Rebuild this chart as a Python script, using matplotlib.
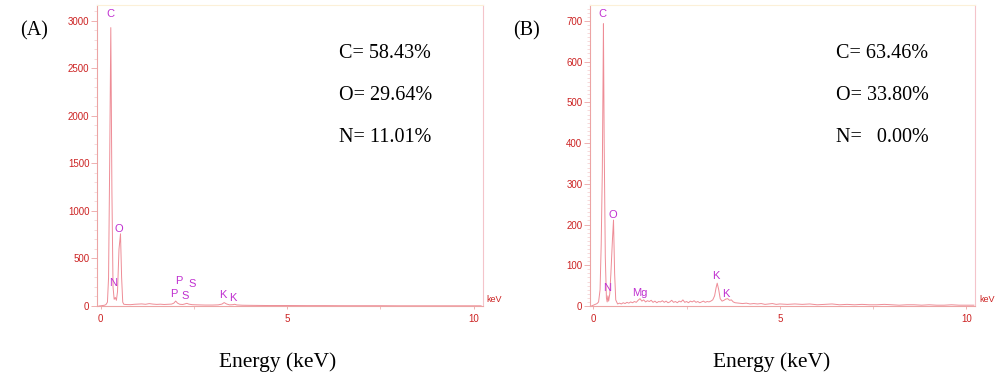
import matplotlib
matplotlib.use('Agg')
import matplotlib.pyplot as plt
from matplotlib.ticker import MultipleLocator, FixedLocator

# ---- spectrum (A) ----
energy_a = [-0.05, 0.00, 0.05, 0.10, 0.14, 0.18, 0.21, 0.24, 0.27, 0.30, 0.33, 0.36,
            0.39, 0.42, 0.45, 0.49, 0.53, 0.56, 0.59, 0.62, 0.70, 0.80, 0.90, 1.00,
            1.10, 1.20, 1.30, 1.40, 1.50, 1.60, 1.70, 1.80, 1.90, 1.96, 2.01, 2.06,
            2.12, 2.20, 2.26, 2.31, 2.36, 2.45, 2.60, 2.80, 3.00, 3.15, 3.25, 3.31,
            3.37, 3.45, 3.55, 3.59, 3.65, 3.80, 4.00, 4.50, 5.00, 5.50, 6.00, 6.50,
            7.00, 7.50, 8.00, 8.50, 9.00, 9.50, 10.00, 10.20]
counts_a = [0, 2, 5, 8, 15, 40, 300, 1500, 2930, 1200, 200, 70,
            90, 60, 150, 600, 760, 300, 40, 18, 15, 14, 18, 20,
            22, 18, 25, 20, 17, 19, 16, 18, 20, 30, 52, 30,
            18, 16, 22, 28, 20, 14, 12, 10, 10, 12, 20, 36,
            22, 12, 14, 18, 11, 8, 7, 5, 5, 4, 4, 3,
            3, 3, 2, 2, 2, 2, 2, 2]

# ---- spectrum (B) ----
energy_b = [-0.05, 0.00, 0.05, 0.10, 0.14, 0.18, 0.21, 0.24, 0.26, 0.27, 0.29, 0.32,
            0.35, 0.37, 0.39, 0.41, 0.44, 0.47, 0.51, 0.54, 0.57, 0.60, 0.65, 0.70,
            0.75, 0.80, 0.85, 0.90, 0.95, 1.00, 1.05, 1.10, 1.15, 1.20, 1.25, 1.30,
            1.35, 1.40, 1.45, 1.50, 1.55, 1.60, 1.65, 1.70, 1.75, 1.80, 1.85, 1.90,
            1.95, 2.00, 2.05, 2.10, 2.15, 2.20, 2.25, 2.30, 2.35, 2.40, 2.45, 2.50,
            2.55, 2.60, 2.65, 2.70, 2.75, 2.80, 2.85, 2.90, 2.95, 3.00, 3.05, 3.10,
            3.15, 3.20, 3.25, 3.29, 3.32, 3.36, 3.40, 3.45, 3.50, 3.55, 3.60, 3.65,
            3.70, 3.75, 3.80, 3.90, 4.00, 4.10, 4.20, 4.30, 4.40, 4.50, 4.60, 4.70,
            4.80, 4.90, 5.00, 5.20, 5.40, 5.60, 5.80, 6.00, 6.20, 6.40, 6.60, 6.80,
            7.00, 7.20, 7.40, 7.60, 7.80, 8.00, 8.20, 8.40, 8.60, 8.80, 9.00, 9.20,
            9.40, 9.60, 9.80, 10.00, 10.20]
counts_b = [0, 2, 4, 6, 10, 40, 150, 330, 560, 693, 400, 120,
            20, 10, 25, 12, 30, 80, 160, 211, 80, 15, 5, 7,
            5, 8, 6, 9, 7, 10, 8, 11, 9, 14, 18, 12,
            15, 10, 13, 11, 14, 9, 12, 8, 11, 10, 13, 9,
            12, 8, 10, 14, 9, 11, 8, 12, 10, 15, 9, 11,
            8, 12, 10, 13, 9, 11, 8, 10, 12, 9, 11, 10,
            12, 15, 25, 45, 56, 40, 18, 12, 14, 17, 18, 14,
            15, 10, 8, 7, 6, 7, 5, 6, 5, 6, 4, 5,
            6, 4, 5, 4, 5, 4, 5, 3, 4, 5, 3, 4,
            3, 4, 3, 3, 4, 3, 2, 3, 3, 2, 3, 2,
            2, 3, 2, 2, 2]

# peak labels (text, energy, counts)
labels_a = [('C', 0.25, 3074), ('O', 0.48, 810), ('N', 0.33, 240),
            ('P', 2.10, 263), ('S', 2.44, 230), ('P', 1.97, 126),
            ('S', 2.27, 105), ('K', 3.28, 116), ('K', 3.54, 87)]
labels_b = [('C', 0.25, 717), ('O', 0.51, 224), ('N', 0.36, 44),
            ('Mg', 1.25, 32), ('K', 3.29, 74), ('K', 3.56, 29)]

comp_a = ['C= 58.43%', 'O= 29.64%', 'N= 11.01%']
comp_b = ['C= 63.46%', 'O= 33.80%', 'N=   0.00%']

line_col = '#ee8c96'
tick_col = '#cc2222'
spine_col = '#eca4a4'
label_col = '#c030d0'

W, H = 1003, 386
fig = plt.figure(figsize=(W / 100, H / 100), dpi=100)


def make_panel(rect, energy, counts, labels, ymax, ymajor, yminor, xlim):
    ax = fig.add_axes(rect)
    ax.plot(energy, counts, color=line_col, lw=0.7)
    ax.set_xlim(*xlim)
    ax.set_ylim(0, ymax)
    ax.yaxis.set_major_locator(MultipleLocator(ymajor))
    ax.yaxis.set_minor_locator(MultipleLocator(yminor))
    ax.xaxis.set_major_locator(FixedLocator([0, 5, 10]))
    ax.xaxis.set_minor_locator(FixedLocator([2.5, 7.5]))
    for s in ['left', 'bottom']:
        ax.spines[s].set_color(spine_col)
        ax.spines[s].set_linewidth(0.8)
    ax.spines['top'].set_color('#fcf0d8')
    ax.spines['right'].set_color('#f4c4ca')
    ax.spines['top'].set_linewidth(0.8)
    ax.spines['right'].set_linewidth(0.8)
    ax.tick_params(axis='y', which='major', length=4, width=0.6, color=spine_col,
                   labelcolor=tick_col, labelsize=7, pad=1.5)
    ax.tick_params(axis='y', which='minor', length=2.5, width=0.4, color='#f2c0c0')
    ax.tick_params(axis='x', which='major', length=2, width=0.6, color=spine_col,
                   labelcolor=tick_col, labelsize=7, pad=4)
    ax.tick_params(axis='x', which='minor', length=2, width=0.5, color=spine_col)
    for lab in ax.get_xticklabels() + ax.get_yticklabels():
        lab.set_family('Liberation Sans')
    for t, x, y in labels:
        ax.text(x, y, t, color=label_col, fontsize=8, family='Liberation Sans',
                ha='center', va='center')
    return ax


ax_a = make_panel([97 / W, 80 / H, 386 / W, 301 / H], energy_a, counts_a, labels_a,
                  3168, 500, 100, (-0.10, 10.25))
ax_b = make_panel([590 / W, 80 / H, 385 / W, 301 / H], energy_b, counts_b, labels_b,
                  739, 100, 10, (-0.09, 10.23))


def ftext(x, y, s, **kw):
    fig.text(x / W, 1 - y / H, s, **kw)


serif = dict(family='Liberation Serif', color='black', va='center')
ftext(20, 31, '(A)', fontsize=14.5, ha='left', **serif)
ftext(513, 31, '(B)', fontsize=14.5, ha='left', **serif)
for i, (ta, tb) in enumerate(zip(comp_a, comp_b)):
    y = 53 + i * 42.5
    ftext(339, y, ta, fontsize=14.5, ha='left', **serif)
    ftext(836, y, tb, fontsize=14.5, ha='left', **serif)
ftext(278, 362, 'Energy (keV)', fontsize=15.5, ha='center', **serif)
ftext(772, 362, 'Energy (keV)', fontsize=15.5, ha='center', **serif)

ftext(486, 300, 'keV', fontsize=6.5, ha='left', color=tick_col, family='Liberation Sans', va='center')
ftext(979, 300, 'keV', fontsize=6.5, ha='left', color=tick_col, family='Liberation Sans', va='center')

fig.savefig('out.png', dpi=100)
